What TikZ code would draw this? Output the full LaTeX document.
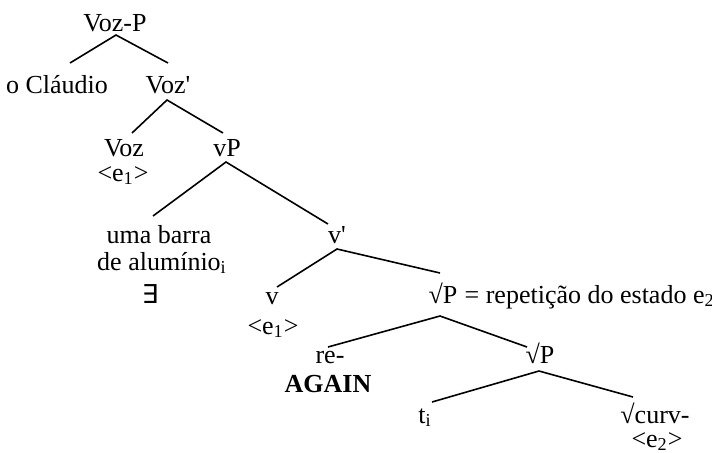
\documentclass[tikz,border=0pt]{standalone}
\usepackage{fontspec}
\setmainfont{Liberation Serif}
\newfontfamily\plainfont{Liberation Serif}
\newfontfamily\symbfont{DejaVu Sans}
\usepackage{tikz}

\begin{document}
\begin{tikzpicture}[x=0.5pt,y=-0.5pt,font=\fontsize{13}{15}\selectfont,
    every node/.style={anchor=base,inner sep=0pt},
    branch/.style={line width=0.8pt}]
  \useasboundingbox (0,0) rectangle (712,452);

  % upper part
  \node (vozp) at (115,31) {Voz-P};
  \node (claudio) at (57,93) {o Cláudio};
  \node (vozbar) at (168,93) {Voz{\plainfont '}};
  \node (voz) at (124,156) {Voz};
  \node (vozev) at (123,181) {<e\textsubscript{1}>};
  \node (vp) at (227,156) {vP};

  % specifier of vP
  \node (barra) at (159,243) {uma barra};
  \node (aluminio) at (162,270) {de alumínio\textsubscript{i}};
  \node (exists) at (150,303) {\symbfont ∃};

  \node (vbar) at (337,243) {v{\plainfont '}};
  \node (v) at (272,304) {v};
  \node (vev) at (273,334) {<e\textsubscript{1}>};
  \node (rootp) at (443,303) {√P};
  \node[anchor=base west] (rep) at (rootp.base east) {~= repetição do estado e\textsubscript{2}};

  % lower part
  \node (re) at (330,363) {re-};
  \node (again) at (328,392) {\textbf{AGAIN}};
  \node (rootpb) at (540,363) {√P};
  \node (ti) at (425,423) {t\textsubscript{i}};
  \node (curv) at (655,423) {√curv-};
  \node (curvev) at (657,447) {<e\textsubscript{2}>};

  \draw[branch] ([shift={(13,-30)}]claudio.base) -- ([shift={(1,4)}]vozp.base)
    -- ([shift={(0,-30)}]vozbar.base);
  \draw[branch] ([shift={(8,-23)}]voz.base) -- ([shift={(-1,7)}]vozbar.base)
    -- ([shift={(-4,-23)}]vp.base);
  \draw[branch] ([shift={(-6,-27)}]barra.base) -- ([shift={(-1,6)}]vp.base)
    -- ([shift={(-9,-19)}]vbar.base);
  \draw[branch] ([shift={(5,-17)}]v.base) -- ([shift={(0,6)}]vbar.base)
    -- ([shift={(-3,-30)}]rootp.base);
  \draw[branch] ([shift={(-2,-16)}]re.base) -- ([shift={(-3,13)}]rootp.base)
    -- ([shift={(-13,-16)}]rootpb.base);
  \draw[branch] ([shift={(7,-21)}]ti.base) -- ([shift={(-1,8)}]rootpb.base)
    -- ([shift={(-22,-26)}]curv.base);
\end{tikzpicture}
\end{document}
